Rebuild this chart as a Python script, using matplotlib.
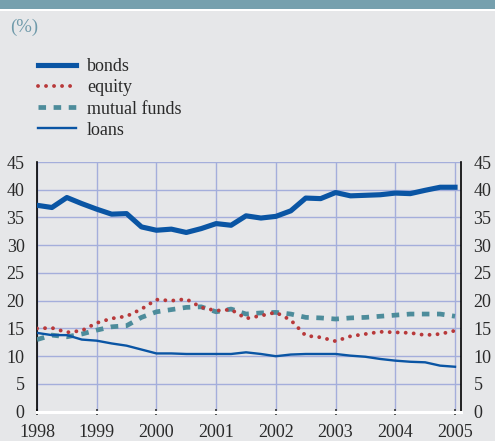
import matplotlib
matplotlib.use("Agg")
import matplotlib.pyplot as plt
from matplotlib.patches import Rectangle
import numpy as np

plt.rcParams['font.family'] = ['Liberation Serif', 'DejaVu Serif']

quarters = [1998 + 0.25 * i for i in range(29)]
bonds = [37.2, 36.8, 38.6, 37.5, 36.5, 35.6, 35.7, 33.3, 32.7, 32.9, 32.3, 33.0,
         33.9, 33.6, 35.3, 34.9, 35.2, 36.2, 38.5, 38.4, 39.5, 38.9, 39.0, 39.1,
         39.4, 39.3, 39.9, 40.45, 40.45]
equity = [15.0, 15.1, 14.3, 14.6, 16.0, 16.8, 17.2, 18.5, 20.2, 20.0, 20.3, 18.8,
          18.2, 18.4, 16.8, 17.3, 17.9, 16.5, 13.7, 13.4, 12.7, 13.6, 14.0, 14.4,
          14.3, 14.2, 13.8, 14.0, 14.6]
mutual_funds = [13.0, 13.8, 13.5, 14.0, 14.7, 15.3, 15.5, 17.0, 18.0, 18.4, 18.8, 18.9,
                18.0, 18.5, 17.6, 17.8, 17.9, 17.6, 17.0, 16.9, 16.7, 16.9, 17.0, 17.2,
                17.4, 17.6, 17.6, 17.6, 17.2]
loans = [14.2, 13.8, 13.8, 13.0, 12.8, 12.3, 11.9, 11.2, 10.5, 10.5, 10.4, 10.4,
         10.4, 10.4, 10.7, 10.4, 10.0, 10.3, 10.4, 10.4, 10.4, 10.1, 9.9, 9.5,
         9.2, 9.0, 8.9, 8.3, 8.1]
year_ticks = [1998, 1999, 2000, 2001, 2002, 2003, 2004, 2005]
y_ticks = [0, 5, 10, 15, 20, 25, 30, 35, 40, 45]
labels = ['bonds', 'equity', 'mutual funds', 'loans']

BG = '#e6e7e9'
BLUE = '#0a55a4'
RED = '#b8393a'
TEAL = '#4d8c9b'
GRID = '#a4aedb'
TXT = '#2a2a2a'

fig = plt.figure(figsize=(4.95, 4.41), dpi=100, facecolor=BG)
fig.patches.append(Rectangle((0, 1 - 9 / 441), 1, 9 / 441, transform=fig.transFigure,
                             facecolor='#76a0ae', edgecolor='none', zorder=0))
fig.patches.append(Rectangle((0, 1 - 11 / 441), 1, 2 / 441, transform=fig.transFigure,
                             facecolor='white', edgecolor='none', zorder=0))
fig.text(10 / 495, 1 - 27 / 441, '(%)', color='#6f9aaa', fontsize=13.5, va='center', ha='left')

ax = fig.add_axes([37 / 495, 29.3 / 441, (461 - 37) / 495, (411.7 - 162) / 441])
ax.set_facecolor(BG)
ax.set_xlim(1998, 2005.1)
ax.set_ylim(0, 45)

l1, = ax.plot(quarters, bonds, color=BLUE, lw=3.7, solid_joinstyle='round', label=labels[0], zorder=5)
l2, = ax.plot(quarters, equity, color=RED, lw=2.8, linestyle=(0, (0.01, 2.05)),
              dash_capstyle='round', label=labels[1], zorder=4)
l3, = ax.plot(quarters, mutual_funds, color=TEAL, lw=3.4, linestyle=(0, (1.6, 1.6)),
              dash_capstyle='butt', label=labels[2], zorder=3)
l4, = ax.plot(quarters, loans, color=BLUE, lw=1.7, label=labels[3], zorder=4)

ax.set_xticks(year_ticks)
ax.set_xticklabels([str(y) for y in year_ticks])
ax.set_yticks(y_ticks)
ax.grid(True, color=GRID, lw=1.0)
ax.set_axisbelow(True)
for s in ['left', 'right']:
    ax.spines[s].set_color('black')
    ax.spines[s].set_linewidth(1.2)
ax.spines['top'].set_visible(False)
ax.spines['bottom'].set_color('white')
ax.spines['bottom'].set_linewidth(2.2)
ax.tick_params(axis='x', direction='inout', length=5, width=1.2, color='#333333',
               labelsize=13, labelcolor=TXT, pad=6)
ax.tick_params(axis='y', length=0, labelsize=13, labelcolor=TXT, pad=9,
               right=False, labelright=True)
ax.yaxis.set_tick_params(which='both', labelleft=True)

leg = fig.legend(handles=[l1, l2, l3, l4], loc='upper left',
                 bbox_to_anchor=(22 / 495, 1 - 42 / 441), frameon=False,
                 fontsize=13, handlelength=2.1, handletextpad=0.6,
                 labelspacing=0.23, labelcolor=TXT)

fig.savefig('out.png', dpi=100, facecolor=BG)
